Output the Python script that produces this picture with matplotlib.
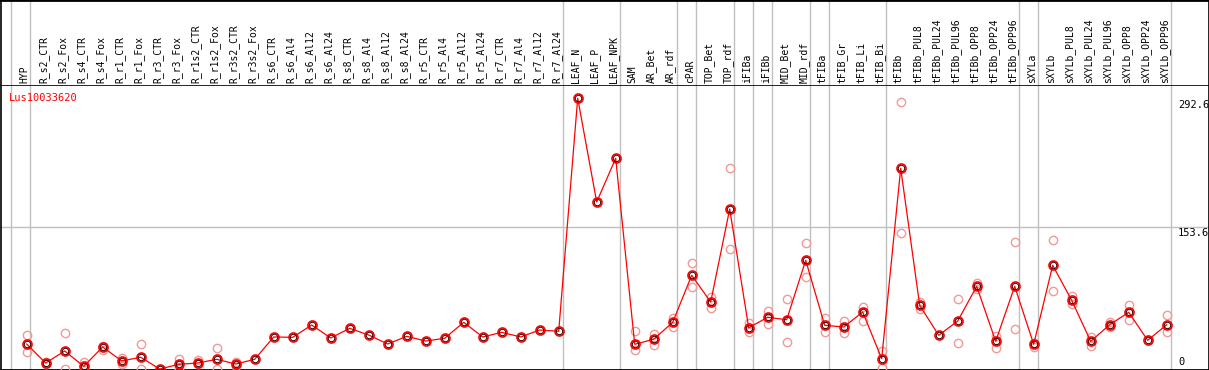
import matplotlib
matplotlib.use("Agg")
import matplotlib.pyplot as plt
from matplotlib.lines import Line2D
import numpy as np

labels = ["HYP",
          "R_s2_CTR", "R_s2_Fox", "R_s4_CTR", "R_s4_Fox", "R_r1_CTR", "R_r1_Fox",
          "R_r3_CTR", "R_r3_Fox", "R_r1s2_CTR", "R_r1s2_Fox", "R_r3s2_CTR", "R_r3s2_Fox",
          "R_s6_CTR", "R_s6_Al4", "R_s6_Al12", "R_s6_Al24",
          "R_s8_CTR", "R_s8_Al4", "R_s8_Al12", "R_s8_Al24",
          "R_r5_CTR", "R_r5_Al4", "R_r5_Al12", "R_r5_Al24",
          "R_r7_CTR", "R_r7_Al4", "R_r7_Al12", "R_r7_Al24",
          "LEAF_N", "LEAF_P", "LEAF_NPK",
          "SAM", "AR_Bet", "AR_rdf", "cPAR", "TOP_Bet", "TOP_rdf",
          "iFIBa", "iFIBb", "MID_Bet", "MID_rdf",
          "tFIBa", "tFIB_Gr", "tFIB_Li", "tFIB_Bi", "tFIBb",
          "tFIBb_PUL8", "tFIBb_PUL24", "tFIBb_PUL96", "tFIBb_OPP8", "tFIBb_OPP24", "tFIBb_OPP96",
          "sXYLa", "sXYLb",
          "sXYLb_PUL8", "sXYLb_PUL24", "sXYLb_PUL96", "sXYLb_OPP8", "sXYLb_OPP24", "sXYLb_OPP96"]

means = [27.5,
         7.0, 20.0, 3.4, 24.3, 9.2, 13.2, 0.5, 5.6, 7.0, 11.0, 5.9, 11.0,
         35.1, 34.7, 48.0, 34.0, 44.4, 37.2, 27.5, 35.8,
         30.7, 33.7, 50.9, 35.1, 40.1, 35.1, 42.6, 41.2,
         292.6, 180.7, 227.8,
         27.2, 32.6, 50.9, 101.6, 72.8, 173.1,
         45.1, 56.3, 53.7, 117.8,
         47.7, 45.8, 62.0, 11.7, 217.0,
         69.2, 36.9, 52.3, 89.7, 30.4, 89.7,
         27.2, 112.4,
         74.6, 30.4, 48.3, 61.7, 31.5, 48.3]

# replicate values (nan where no replicate is visible apart from the mean)
nan = np.nan
rep_hi = [37.2,
          7.8, 39.3, 7.8, 25.7, 12.7, 27.5, nan, 11.3, 9.9, 22.9, 8.4, nan,
          nan, nan, nan, nan, nan, nan, nan, nan,
          nan, nan, nan, nan, nan, nan, nan, nan,
          nan, nan, nan,
          41.2, 38.3, 55.6, 114.9, 77.9, 217.0,
          49.8, 63.4, 76.1, 136.5,
          55.6, 52.6, 67.1, 20.3, 288.2,
          72.8, nan, 76.1, 93.0, 36.1, 137.2,
          28.9, 139.4,
          79.3, 35.4, 51.2, 69.2, nan, 58.5]
rep_lo = [18.9,
          5.5, 0.0, 2.0, 21.4, 5.9, 0.0, nan, 0.0, 5.6, 0.0, 3.4, nan,
          nan, nan, nan, nan, nan, nan, nan, nan,
          nan, nan, nan, nan, nan, nan, nan, nan,
          nan, nan, nan,
          21.0, 26.4, 46.2, 88.7, 66.3, 129.7,
          40.1, 48.8, 29.3, 99.5,
          40.1, 39.0, 52.0, 1.6, 146.9,
          64.9, nan, 28.6, 86.5, 23.5, 43.4,
          24.6, 84.4,
          70.7, 25.4, 45.5, 53.4, nan, 40.1]

gene = "Lus10033620"
ytick_vals = [292.6, 153.6, 0]
group_ends = [-1, 0, 28, 31, 34, 35, 37, 38, 39, 41, 42, 45, 52, 53, 60]

W, H = 1209, 370
fig = plt.figure(figsize=(W / 100, H / 100), dpi=100)
font = "DejaVu Sans Mono"

x0_px, step_px = 26.7, 19.0
xlim = (-x0_px / step_px, (W - x0_px) / step_px)

head_h = 85
ax = fig.add_axes([0, 0, 1, (H - head_h) / H])
hx = fig.add_axes([0, (H - head_h) / H, 1, head_h / H])

x = np.arange(len(labels))
ax.set_xlim(*xlim)
ax.set_ylim(-0.54, 306.9)
hx.set_xlim(*xlim)
hx.set_ylim(0, head_h)

for a in (ax, hx):
    a.set_xticks([])
    a.set_yticks([])
    for s in a.spines.values():
        s.set_visible(False)
    for g in group_ends:
        a.axvline(g + 0.2, color="#c0c0c0", lw=1, zorder=0)

ax.axhline(ytick_vals[1], color="#c0c0c0", lw=1, zorder=0)

# frame lines
ax.add_line(Line2D([0, 1], [0, 0], transform=ax.transAxes, color="black", lw=2, clip_on=False))
ax.add_line(Line2D([0, 1], [1, 1], transform=ax.transAxes, color="black", lw=1.2, clip_on=False))
fig.add_artist(Line2D([0, 1], [1, 1], color="black", lw=2))
fig.add_artist(Line2D([0.5 / W, 0.5 / W], [0, 1], color="black", lw=1.2))
fig.add_artist(Line2D([1 - 0.5 / W, 1 - 0.5 / W], [0, 1], color="black", lw=1.2))

rep_style = dict(ms=6, mfc="none", mec="#f09a9a", mew=1.0, zorder=2, clip_on=False)
ax.plot(x, rep_hi, "o", **rep_style)
ax.plot(x, rep_lo, "o", **rep_style)
ax.plot(x, means, "-", color="red", lw=0.9, zorder=3)
ax.plot(x, means, "o", ms=6.5, mfc="none", mec="red", mew=1.2, zorder=4, clip_on=False)
ax.plot(x, means, "o", ms=4.6, mfc="none", mec="#300000", mew=0.7, zorder=5, clip_on=False)

for i, lab in enumerate(labels):
    hx.text(i - 0.1, 2, lab, rotation=90, ha="center", va="bottom",
            fontsize=7, family=font)

fig.text(9 / W, 1 - 98 / H, gene, color="red", fontsize=7.5, family=font,
         ha="left", va="center")

tx = (1178 - x0_px) / step_px
ax.text(tx, ytick_vals[0] - 1.5, "292.6", ha="left", va="top", fontsize=7.5, family=font)
ax.text(tx, ytick_vals[1] - 1, "153.6", ha="left", va="top", fontsize=7.5, family=font)
ax.text(tx, 2.5, "0", ha="left", va="bottom", fontsize=7.5, family=font)

fig.savefig("out.png", dpi=100)
